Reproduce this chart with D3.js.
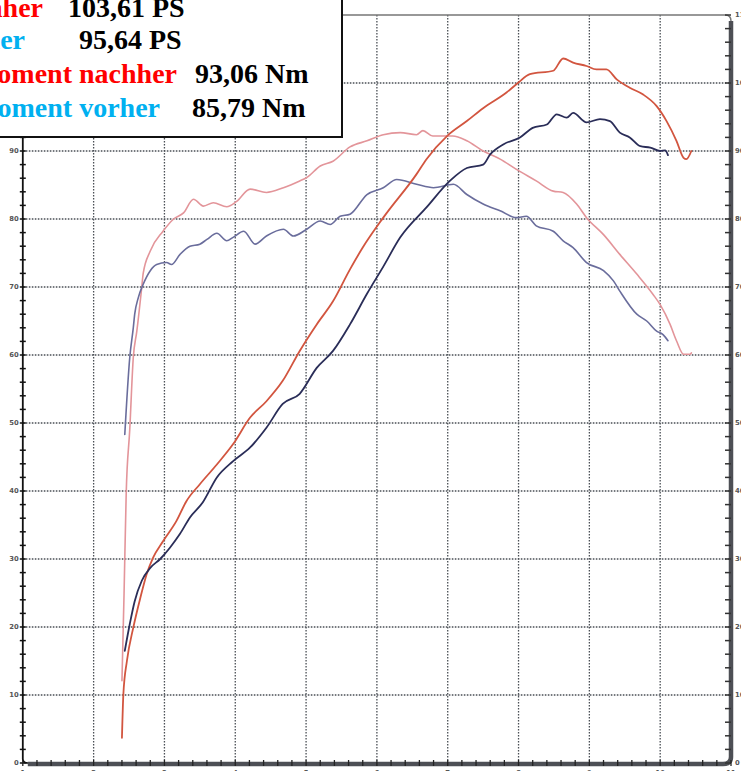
<!DOCTYPE html>
<html>
<head>
<meta charset="utf-8">
<script src="https://cdn.jsdelivr.net/npm/d3@7/dist/d3.min.js"></script>
<style>
html,body{margin:0;padding:0;background:#fff;overflow:hidden;}
svg{display:block;}
</style>
</head>
<body>
<svg id="c" width="741" height="771"></svg>
<script>
// rpm (x1000) and value pairs, read from the dyno sheet
const powerAfterRpm = [2.40,2.42,2.47,2.56,2.66,2.75,2.84,2.98,3.17,3.31,3.50,3.74,3.97,4.21,4.44,4.67,4.91,5.15,5.38,5.62,5.80,6.09,6.56,6.70,6.99,7.27,7.50,7.83,7.99,8.16,8.49,8.63,8.77,8.96,9.10,9.24,9.39,9.57,9.76,9.95,10.09,10.23,10.33,10.37,10.44];
const powerAfter    = [3.7,10.1,15.0,19.9,24.3,27.8,30.2,32.6,35.6,38.5,41.0,43.9,46.9,50.8,53.2,56.2,60.6,64.5,67.9,72.6,75.8,80.2,86.6,88.8,92.2,94.4,96.3,98.6,100.0,101.3,101.8,103.6,103.0,102.5,102.0,102.0,100.5,99.3,98.3,96.6,94.4,91.5,89.0,88.8,90.0];

const powerBeforeRpm = [2.44,2.51,2.58,2.68,2.80,2.94,3.08,3.22,3.36,3.54,3.74,3.97,4.21,4.44,4.67,4.91,5.15,5.38,5.62,5.86,6.09,6.33,6.70,7.03,7.27,7.50,7.60,7.79,8.02,8.20,8.40,8.54,8.68,8.77,8.96,9.15,9.29,9.43,9.57,9.72,9.86,10.00,10.07,10.11];
const powerBefore    = [16.5,20.4,23.8,26.8,28.7,30.0,31.7,33.7,36.1,38.3,42.0,44.4,46.4,49.3,52.8,54.3,58.1,60.6,64.5,69.0,73.0,77.3,81.7,85.6,87.5,88.0,89.5,91.0,92.0,93.4,93.9,95.4,94.9,95.6,94.2,94.7,94.4,92.7,92.0,90.7,90.5,90.0,90.1,89.4];

const torqueAfterRpm = [2.40,2.43,2.46,2.51,2.56,2.61,2.68,2.70,2.80,2.98,3.13,3.27,3.41,3.55,3.69,3.88,4.02,4.21,4.44,4.68,4.91,5.01,5.20,5.38,5.62,5.86,6.09,6.33,6.56,6.65,6.79,7.07,7.27,7.50,7.74,7.97,8.25,8.49,8.63,8.82,8.96,9.20,9.43,9.67,9.90,10.00,10.14,10.23,10.33,10.42,10.44];
const torqueAfter    = [12.1,25.0,39.6,49.0,59.6,63.5,70.0,72.0,75.3,78.2,80.0,80.9,82.9,81.9,82.4,81.8,82.6,84.4,83.9,84.6,85.6,86.1,87.8,88.5,90.6,91.5,92.4,92.7,92.4,93.0,92.2,92.2,91.5,90.0,88.8,87.3,85.6,84.1,83.9,82.2,80.2,77.7,74.8,71.9,68.9,67.4,64.5,62.1,60.1,60.1,60.3];

const torqueBeforeRpm = [2.44,2.51,2.56,2.58,2.63,2.70,2.80,2.89,3.03,3.10,3.22,3.36,3.50,3.60,3.74,3.88,3.97,4.12,4.28,4.44,4.68,4.82,5.01,5.20,5.34,5.48,5.62,5.86,6.09,6.28,6.56,6.80,7.08,7.27,7.50,7.74,7.97,8.11,8.25,8.49,8.63,8.77,8.96,9.20,9.34,9.43,9.67,9.81,9.95,10.04,10.11];
const torqueBefore    = [48.3,59.6,64.0,66.0,68.4,70.4,72.4,73.3,73.6,73.3,74.8,76.0,76.3,77.0,77.9,76.8,77.3,78.2,76.3,77.5,78.5,77.5,78.5,79.7,79.2,80.4,80.7,83.6,84.6,85.8,85.1,84.6,85.1,83.6,82.2,81.2,80.2,80.4,79.0,78.2,76.8,75.8,73.6,72.4,70.9,69.4,66.0,65.0,63.5,63.0,62.1];

const xTicks = [1,2,3,4,5,6,7,8,9,10,11];
const yTicks = [0,10,20,30,40,50,60,70,80,90,100,110];
const yTicksLeftVisible = [0,10,20,30,40,50,60,70,80,90];

const legendNames  = ["Leistung nachher","Leistung vorher","Drehmoment nachher","Drehmoment vorher"];
const legendValues = ["103,61 PS","95,64 PS","93,06 Nm","85,79 Nm"];

const svg = d3.select("#c");
const x = d3.scaleLinear().domain([1,11]).range([22.8,731]);
const y = d3.scaleLinear().domain([0,110]).range([763,15]);

// grid
const grid = svg.append("g").attr("stroke","#4a4f55").attr("stroke-width",1.3).attr("stroke-dasharray","1.6,1.4");
grid.selectAll("line.h").data(yTicks.filter(v=>v>0 && v<110)).join("line")
  .attr("x1",x(1)).attr("x2",x(11)).attr("y1",d=>y(d)).attr("y2",d=>y(d));
grid.selectAll("line.v").data(xTicks.filter(v=>v>1 && v<11)).join("line")
  .attr("x1",d=>x(d)).attr("x2",d=>x(d)).attr("y1",y(110)).attr("y2",y(0));

// top border
svg.append("path")
  .attr("d",`M${x(1)},${y(110)} L${x(11)-6},${y(110)} Q${x(11)},${y(110)} ${x(11)},${y(110)+6}`)
  .attr("fill","none").attr("stroke","#777").attr("stroke-width",1.5);

// left axis (thin black)
const left = svg.append("g").attr("transform",`translate(${x(1)},0)`);
left.append("line").attr("y1",y(110)).attr("y2",y(0)-4).attr("stroke","#111").attr("stroke-width",1.8);
left.append("path").attr("d",`M0,${y(0)-4} Q0,${y(0)} 5,${y(0)}`).attr("fill","none").attr("stroke","#111").attr("stroke-width",1.8);
left.selectAll("line.t").data(d3.range(0,111,2)).join("line")
  .attr("x1",-3).attr("x2",3).attr("y1",d=>y(d)).attr("y2",d=>y(d)).attr("stroke","#111").attr("stroke-width",1.5);
left.selectAll("text").data(yTicksLeftVisible).join("text")
  .attr("x",-4).attr("y",d=>y(d)).attr("dy","0.35em").attr("text-anchor","end")
  .attr("font-family","DejaVu Sans").attr("font-weight","bold").attr("font-size",6.8).attr("fill","#555")
  .text(d=>d);

// right axis (thick gray)
const right = svg.append("g").attr("transform",`translate(${x(11)},0)`);
right.append("line").attr("y1",y(110)+6).attr("y2",y(0)-6).attr("stroke","#4d4f55").attr("stroke-width",4.5);
right.append("path").attr("d",`M0,${y(0)-6} Q0,${y(0)+1} -8,${y(0)+1}`).attr("fill","none").attr("stroke","#4d4f55").attr("stroke-width",4.5);
right.selectAll("line.t").data(d3.range(0,111,2)).join("line")
  .attr("x1",-6).attr("x2",0).attr("y1",d=>y(d)).attr("y2",d=>y(d)).attr("stroke","#333").attr("stroke-width",1.5);
right.selectAll("text").data(yTicks).join("text")
  .attr("x",4).attr("y",d=>y(d)).attr("dy","0.35em").attr("text-anchor","start")
  .attr("font-family","DejaVu Sans").attr("font-weight","bold").attr("font-size",6.8).attr("fill","#555")
  .text(d=>d);

// bottom axis (thick gray)
const bottom = svg.append("g").attr("transform",`translate(0,${y(0)+1})`);
bottom.append("line").attr("x1",x(1)+5).attr("x2",x(11)-8).attr("stroke","#4d4f55").attr("stroke-width",4.5);
bottom.selectAll("line.t").data(d3.range(1,11.01,0.2)).join("line")
  .attr("x1",d=>x(d)).attr("x2",d=>x(d)).attr("y1",-4).attr("y2",2).attr("stroke","#222").attr("stroke-width",1.3);
bottom.selectAll("text").data(xTicks).join("text")
  .attr("x",d=>x(d)).attr("y",11).attr("text-anchor","middle")
  .attr("font-family","DejaVu Sans").attr("font-weight","bold").attr("font-size",6.8).attr("fill","#555")
  .text(d=>d);

// curves
const line = d3.line().x(d=>x(d[0])).y(d=>y(d[1])).curve(d3.curveMonotoneX);
const series = [
  {rpm: torqueAfterRpm,  v: torqueAfter,  c:"#e3959a", w:1.6},
  {rpm: torqueBeforeRpm, v: torqueBefore, c:"#6a6d9c", w:1.6},
  {rpm: powerAfterRpm,   v: powerAfter,   c:"#d2553f", w:1.8},
  {rpm: powerBeforeRpm,  v: powerBefore,  c:"#2a2d58", w:1.8}
];
svg.append("g").selectAll("path").data(series).join("path")
  .attr("d",s=>line(s.rpm.map((r,i)=>[r,s.v[i]])))
  .attr("fill","none").attr("stroke",s=>s.c).attr("stroke-width",s=>s.w)
  .attr("stroke-linejoin","round").attr("stroke-linecap","round");

// legend box
const lg = svg.append("g");
lg.append("rect").attr("x",-5).attr("y",-5).attr("width",347).attr("height",142)
  .attr("fill","#fff").attr("stroke","#111").attr("stroke-width",2);
const nameEnd = [43,25,177,160];
const valStart = [68,79,195,192];
const baseY = [17,49,83,117];
const nameColor = ["#ff0000","#00b0f0","#ff0000","#00b0f0"];
lg.selectAll("text.n").data(legendNames).join("text")
  .attr("x",(d,i)=>nameEnd[i]).attr("y",(d,i)=>baseY[i]).attr("text-anchor","end")
  .attr("font-family","Liberation Serif").attr("font-weight","bold").attr("font-size",28)
  .attr("fill",(d,i)=>nameColor[i]).text(d=>d);
lg.selectAll("text.v").data(legendValues).join("text")
  .attr("x",(d,i)=>valStart[i]).attr("y",(d,i)=>baseY[i]).attr("text-anchor","start")
  .attr("font-family","Liberation Serif").attr("font-weight","bold").attr("font-size",28)
  .attr("fill","#000").text(d=>d);
</script>
</body>
</html>
